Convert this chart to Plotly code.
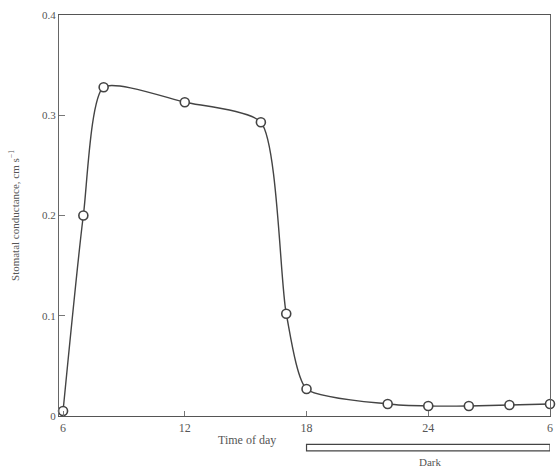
import plotly.graph_objects as go

hours = [6, 7, 8, 12, 15.75, 17, 18, 22, 24, 26, 28, 30]
conductance = [0.005, 0.200, 0.328, 0.313, 0.293, 0.102, 0.027, 0.012, 0.010, 0.010, 0.011, 0.012]

x_tick_vals = [6, 12, 18, 24, 30]
x_tick_text = ["6", "12", "18", "24", "6"]
y_tick_vals = [0, 0.1, 0.2, 0.3, 0.4]
y_tick_text = ["0", "0.1", "0.2", "0.3", "0.4"]

dark_start, dark_end = 18, 30

FONT = "Liberation Serif"
INK = "#444444"

fig = go.Figure()
fig.add_trace(go.Scatter(
    x=hours, y=conductance,
    mode="lines+markers",
    line=dict(color=INK, width=1.4, shape="spline", smoothing=0.6),
    marker=dict(symbol="circle", size=9, color="white",
                line=dict(color=INK, width=1.6)),
    showlegend=False, cliponaxis=False,
))

# Dark period bar below the axis
fig.add_shape(type="rect", xref="x", yref="paper",
              x0=dark_start, x1=dark_end, y0=-0.087, y1=-0.071,
              line=dict(color=INK, width=1.2), fillcolor="white")

fig.add_annotation(x=(dark_start + dark_end) / 2 + 0.1, y=-0.135, xref="x", yref="paper",
                   text="Dark", showarrow=False,
                   font=dict(family=FONT, size=11, color="#555555"))
fig.add_annotation(x=15.05, y=-0.082, xref="x", yref="paper",
                   text="Time of day", showarrow=False,
                   font=dict(family=FONT, size=12, color="#555555"))

fig.update_layout(
    width=556, height=468,
    margin=dict(l=59, r=3, t=15, b=52),
    paper_bgcolor="white", plot_bgcolor="white",
    font=dict(family=FONT, size=11, color="#555555"),
    xaxis=dict(
        range=[5.8, 30], tickvals=x_tick_vals, ticktext=x_tick_text,
        ticks="inside", ticklen=5, tickcolor="#777777",
        showline=True, linecolor="#555555", linewidth=1.3, mirror=True,
        showgrid=False, zeroline=False,
        tickfont=dict(family=FONT, size=12, color="#555555"),
    ),
    yaxis=dict(
        range=[0, 0.4], tickvals=y_tick_vals, ticktext=y_tick_text,
        ticks="inside", ticklen=6, tickcolor="#777777",
        showline=True, linecolor="#666666", linewidth=1.2, mirror=True,
        showgrid=False, zeroline=False,
        tickfont=dict(family=FONT, size=11, color="#555555"),
        title=dict(text="Stomatal conductance, cm s<sup>\u22121</sup>",
                   font=dict(family=FONT, size=11, color="#555555"),
                   standoff=20),
    ),
)

fig.write_html("out.html")
